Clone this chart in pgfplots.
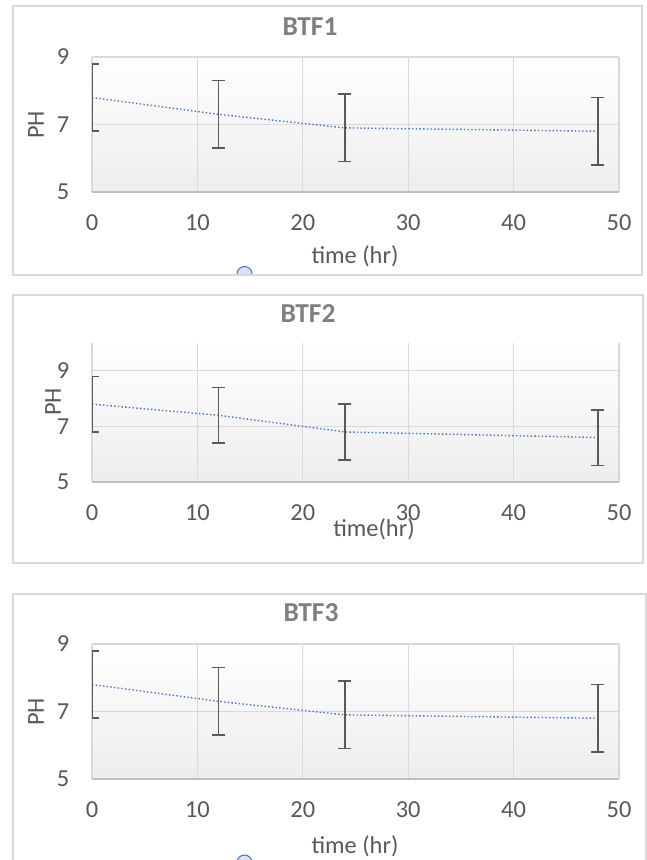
\documentclass[border=0pt]{standalone}
\usepackage{fontspec}
\setmainfont{Carlito}
\usepackage{pgfplots}
\pgfplotsset{compat=1.18}

\definecolor{txtgray}{HTML}{595959}
\definecolor{titlegray}{HTML}{7F7F7F}
\definecolor{gridgray}{HTML}{D9D9D9}
\definecolor{axgray}{HTML}{BFBFBF}
\definecolor{lineblue}{HTML}{4472C4}
\definecolor{handle}{HTML}{DAE3F3}

\newcommand{\chartfont}{\fontsize{24.5}{29}\selectfont}
\newcommand{\titlefont}{\fontsize{27.5}{33}\selectfont\bfseries}

\pgfplotsset{
  phaxis/.style={
    scale only axis, width=527bp, anchor=south west,
    xmin=0, xmax=50, xtick={0,10,...,50},
    ymin=5, ytick={5,7,9},
    grid=major, major grid style={gridgray, line width=1.2bp},
    axis line style={draw=none},
    tick style={draw=none},
    ticklabel style={font=\chartfont, text=txtgray},
    xticklabel style={anchor=center, yshift=-31bp},
    yticklabel style={anchor=center, xshift=-29bp},
    axis background/.style={top color=white, bottom color=black!7},
    clip marker paths=true,
    /pgf/number format/assume math mode=true,
  },
  phline/.style={lineblue, line width=1.4bp, dash pattern=on 1.4bp off 2.3bp,
    error bars/.cd, y dir=both, y explicit,
    error bar style={solid, txtgray, line width=1.6bp},
    error mark options={solid, txtgray, line width=1.6bp, mark size=6.5bp, rotate=90}},
}

\begin{document}
\begin{tikzpicture}[x=1bp, y=1bp]
\useasboundingbox (0,0) rectangle (647bp,860bp);

% frames
\draw[gridgray, line width=1.2bp] (13bp,585bp) rectangle (642bp,854bp);
\draw[gridgray, line width=1.2bp] (13bp,297bp) rectangle (643bp,565bp);
\draw[gridgray, line width=1.2bp] (13bp,0bp) -- (13bp,266bp) -- (646bp,266bp) -- (646bp,0bp);

% BTF1
\begin{axis}[phaxis, name=ax1, at={(92bp,668bp)}, height=135bp, ymax=9]
\addplot[phline] coordinates {
  (0,7.8) +- (0,1)
  (12,7.3) +- (0,1)
  (24,6.9) +- (0,1)
  (48,6.8) +- (0,1)
};
\end{axis}
\draw[axgray, line width=1.5bp] (ax1.south west) -- (ax1.south east);
\node[font=\titlefont, text=titlegray, anchor=base] at (310bp,824bp) {BTF1};
\node[font=\chartfont, text=txtgray, anchor=base] at (355bp,596bp) {time (hr)};
\node[font=\chartfont, text=txtgray, rotate=90, anchor=center] at (36bp,735bp) {PH};
\filldraw[fill=handle, draw=lineblue, line width=1bp] (237bp,586bp) arc[start angle=180, end angle=0, radius=7.5bp];

% BTF2
\begin{axis}[phaxis, name=ax2, at={(92bp,378bp)}, height=139bp, ymax=10]
\addplot[phline] coordinates {
  (0,7.8) +- (0,1)
  (12,7.4) +- (0,1)
  (24,6.8) +- (0,1)
  (48,6.6) +- (0,1)
};
\end{axis}
\draw[axgray, line width=1.5bp] (ax2.south west) -- (ax2.south east);
\node[font=\titlefont, text=titlegray, anchor=base] at (308bp,537bp) {BTF2};
\node[font=\chartfont, text=txtgray, anchor=base] at (374bp,323bp) {time(hr)};
\node[font=\chartfont, text=txtgray, rotate=90, anchor=center] at (53bp,458bp) {PH};

% BTF3
\begin{axis}[phaxis, name=ax3, at={(92bp,81bp)}, height=135bp, ymax=9]
\addplot[phline] coordinates {
  (0,7.8) +- (0,1)
  (12,7.3) +- (0,1)
  (24,6.9) +- (0,1)
  (48,6.8) +- (0,1)
};
\end{axis}
\draw[axgray, line width=1.5bp] (ax3.south west) -- (ax3.south east);
\node[font=\titlefont, text=titlegray, anchor=base] at (311bp,238bp) {BTF3};
\node[font=\chartfont, text=txtgray, anchor=base] at (355bp,7bp) {time (hr)};
\node[font=\chartfont, text=txtgray, rotate=90, anchor=center] at (36bp,148bp) {PH};
\filldraw[fill=handle, draw=lineblue, line width=1bp] (237bp,-2.5bp) arc[start angle=180, end angle=0, radius=7.5bp];
\end{tikzpicture}
\end{document}
